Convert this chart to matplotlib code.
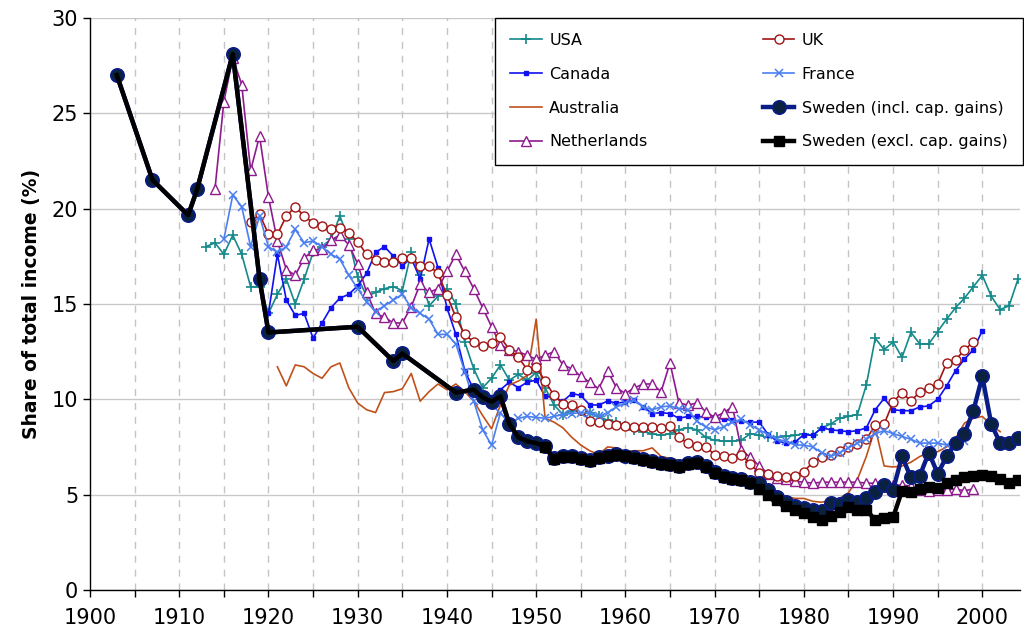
import matplotlib

matplotlib.use("Agg")
import matplotlib.pyplot as plt

# ---- data (top 1% income shares, %) ----
usa_years = list(range(1913, 2005))
usa_vals = [
    18.0, 18.2, 17.6, 18.6, 17.6, 15.9, 15.9, 14.5, 15.5, 16.3,
    15.0, 16.3, 17.7, 18.0, 18.4, 19.6, 18.4, 16.4, 15.4, 15.6,
    15.8, 15.9, 15.7, 17.7, 16.5, 14.9, 15.4, 15.8, 15.0, 13.0,
    11.6, 10.6, 11.1, 11.8, 11.0, 11.3, 11.0, 11.4, 10.6, 9.7,
    9.2, 9.4, 9.4, 9.3, 9.1, 8.9, 8.8, 8.6, 8.4, 8.3,
    8.2, 8.1, 8.2, 8.4, 8.5, 8.4, 8.0, 7.85, 7.8, 7.8,
    7.85, 8.2, 8.1, 8.0, 8.0, 8.05, 8.1, 8.2, 8.1, 8.5,
    8.7, 9.0, 9.1, 9.2, 10.75, 13.2, 12.6, 13.0, 12.2, 13.5,
    12.9, 12.9, 13.55, 14.2, 14.8, 15.3, 15.9, 16.5, 15.4, 14.7,
    14.9, 16.3,
]

uk_years = list(range(1918, 2000))
uk_vals = [
    19.3, 19.7, 18.65, 18.65, 19.6, 20.1, 19.6, 19.25, 19.1, 18.9,
    19.0, 18.7, 18.25, 17.6, 17.3, 17.2, 17.2, 17.4, 17.4, 17.0,
    17.0, 16.6, 15.45, 14.3, 13.4, 13.0, 12.8, 12.95, 13.25, 12.6,
    12.2, 11.55, 11.7, 10.95, 10.2, 9.75, 9.7, 9.45, 8.85, 8.8,
    8.7, 8.65, 8.6, 8.55, 8.55, 8.55, 8.5, 8.6, 8.0, 7.7,
    7.55, 7.5, 7.1, 7.05, 6.9, 7.1, 6.6, 6.15, 6.1, 6.0,
    5.9, 6.0, 6.2, 6.7, 6.95, 7.1, 7.3, 7.5, 7.65, 7.9,
    8.65, 8.7, 9.85, 10.35, 9.9, 10.4, 10.6, 10.8, 11.9, 12.05,
    12.6, 13.0,
]

canada_years = list(range(1920, 2001))
canada_vals = [
    14.5, 17.6, 15.2, 14.4, 14.5, 13.2, 14.0, 14.8, 15.3, 15.5,
    15.95, 16.6, 17.7, 18.0, 17.5, 17.0, 17.4, 16.3, 18.4, 16.9,
    14.8, 13.4, 11.5, 10.5, 10.3, 10.1, 10.5, 10.9, 10.6, 10.9,
    11.0, 10.15, 10.1, 9.9, 10.3, 10.2, 9.7, 9.7, 9.9, 9.8,
    9.85, 9.95, 9.6, 9.25, 9.3, 9.25, 9.0, 9.1, 9.1, 9.05,
    9.05, 8.95, 8.9, 8.85, 8.8, 8.8, 8.15, 7.8, 7.7, 7.75,
    8.15, 8.1, 8.5, 8.4, 8.35, 8.3, 8.35, 8.5, 9.45, 10.05,
    9.45, 9.4, 9.4, 9.6, 9.65, 10.0, 10.7, 11.5, 12.1, 12.6,
    13.6,
]

france_years = list(range(1915, 1999))
france_vals = [
    18.4, 20.7, 20.1, 18.0, 19.6, 18.0, 17.7, 18.0, 18.9, 18.2,
    18.3, 18.0, 17.6, 17.35, 16.5, 15.8, 15.1, 14.6, 14.9, 15.2,
    15.5, 14.8, 14.5, 14.2, 13.4, 13.4, 12.9, 11.45, 9.9, 8.4,
    7.6, 9.3, 8.7, 9.0, 9.1, 9.05, 9.0, 9.1, 9.2, 9.25,
    9.3, 9.3, 9.1, 9.3, 9.6, 9.8, 9.95, 9.6, 9.45, 9.6,
    9.65, 9.5, 9.45, 8.85, 8.55, 8.4, 8.55, 8.8, 8.95, 8.65,
    8.4, 8.15, 7.9, 7.8, 7.6, 7.6, 7.5, 7.2, 7.0, 7.2,
    7.45, 7.7, 7.9, 8.2, 8.35, 8.2, 8.05, 7.9, 7.7, 7.7,
    7.7, 7.6, 7.7, 7.8,
]

australia_years = list(range(1921, 2003))
australia_vals = [
    11.7, 10.7, 11.8, 11.7, 11.35, 11.1, 11.7, 11.9, 10.6, 9.8,
    9.45, 9.3, 10.35, 10.4, 10.55, 11.35, 9.9, 10.4, 10.8, 10.5,
    10.8, 10.4, 9.9, 9.15, 8.45, 9.7, 10.75, 10.95, 11.25, 14.2,
    9.0, 8.8, 8.5, 8.0, 7.6, 7.3, 7.1, 7.5, 7.45, 7.25,
    7.3, 7.3, 7.45, 7.0, 6.9, 6.8, 6.7, 6.7, 6.5, 6.2,
    6.0, 5.8, 5.6, 5.4, 5.3, 5.1, 5.0, 4.9, 4.8, 4.8,
    4.65, 4.6, 4.7, 4.8, 5.1, 5.8, 7.0, 8.5, 6.5, 6.45,
    6.5, 6.7, 7.0, 7.2, 7.25, 7.5, 7.95, 8.75, 9.0, 9.1,
    8.65, 8.3,
]

nl_years = list(range(1914, 2000))
nl_vals = [
    21.0, 25.6, 27.9, 26.5, 22.0, 23.8, 20.6, 18.3, 16.8, 16.5,
    17.4, 17.8, 17.9, 18.35, 18.6, 18.1, 17.1, 15.6, 14.5, 14.3,
    14.0, 14.0, 14.85, 16.05, 15.6, 15.8, 16.7, 17.6, 16.7, 15.8,
    14.8, 13.8, 12.85, 12.6, 12.5, 12.3, 12.1, 12.3, 12.5, 11.8,
    11.6, 11.2, 10.9, 10.55, 11.5, 10.6, 10.3, 10.6, 10.8, 10.8,
    10.4, 11.9, 9.8, 9.7, 9.8, 9.35, 9.05, 9.3, 9.6, 7.35,
    6.95, 6.5, 6.1, 5.85, 5.8, 5.7, 5.65, 5.6, 5.65, 5.65,
    5.65, 5.65, 5.65, 5.6, 5.6, 5.55, 5.5, 5.5, 5.45, 5.25,
    5.2, 5.25, 5.25, 5.3, 5.2, 5.3,
]

sweden_years = [1903, 1907, 1911, 1912, 1916, 1919, 1920, 1930, 1934, 1935,
                1941, 1943, 1944, 1945, 1946, 1947, 1948, 1949, 1950] + list(range(1951, 2005))
sweden_incl_vals = [
    27.0, 21.5, 19.65, 21.0, 28.1, 16.3, 13.5, 13.8, 12.0, 12.4,
    10.35, 10.5, 10.1, 9.87, 10.15, 8.7, 8.0, 7.8, 7.7,
    7.55, 6.9, 7.0, 7.0, 6.9, 6.8, 6.95, 7.05, 7.15, 7.05,
    6.95, 6.85, 6.75, 6.65, 6.6, 6.5, 6.65, 6.7, 6.5, 6.2,
    5.95, 5.85, 5.8, 5.65, 5.6, 5.25, 4.9, 4.6, 4.4, 4.3,
    4.2, 4.15, 4.55, 4.5, 4.7, 4.6, 4.8, 5.15, 5.5, 5.25,
    7.0, 5.9, 6.0, 7.2, 6.1, 7.0, 7.7, 8.2, 9.4, 11.2,
    8.7, 7.7, 7.7, 7.95,
]
sweden_excl_vals = [
    27.0, 21.5, 19.65, 21.0, 28.1, 16.3, 13.5, 13.8, 12.0, 12.4,
    10.35, 10.5, 10.1, 9.87, 10.15, 8.7, 8.0, 7.8, 7.7,
    7.5, 6.85, 6.95, 6.95, 6.85, 6.75, 6.9, 7.0, 7.1, 7.0,
    6.9, 6.8, 6.7, 6.6, 6.55, 6.47, 6.6, 6.64, 6.47, 6.15,
    5.9, 5.8, 5.75, 5.6, 5.3, 5.0, 4.72, 4.4, 4.2, 4.02,
    3.85, 3.67, 3.88, 4.1, 4.37, 4.2, 4.2, 3.67, 3.76, 3.81,
    5.2, 5.15, 5.3, 5.4, 5.35, 5.6, 5.75, 5.9, 6.0, 6.05,
    6.0, 5.8, 5.6, 5.75,
]

fig = plt.figure(figsize=(10.24, 6.39), dpi=100)
ax = fig.add_axes([0.0879, 0.0767, 0.908, 0.8955])

ax.plot(usa_years, usa_vals, color="#15898a", lw=1.2, marker="+", ms=7, mew=1.2, label="USA")
ax.plot(canada_years, canada_vals, color="#1010f0", lw=1.2, marker="s", ms=2.2, label="Canada")
ax.plot(australia_years, australia_vals, color="#c0501a", lw=1.2, label="Australia")
ax.plot(nl_years, nl_vals, color="#8e1a8e", lw=1.2, marker="^", ms=6.5, mfc="white", mew=1.0,
        label="Netherlands")
ax.plot(uk_years, uk_vals, color="#a01414", lw=1.2, marker="o", ms=6.5, mfc="white", mew=1.0, label="UK")
ax.plot(france_years, france_vals, color="#4a7ff0", lw=1.2, marker="x", ms=5.5, mew=1.1, label="France")

ax.plot(sweden_years, sweden_incl_vals, color="#0a1c86", lw=3.2, marker="o", ms=9.5,
        mfc="#0a2240", mec="#0a1c86", mew=1.3, label="Sweden (incl. cap. gains)")
first_sq = sweden_years.index(1951)
ax.plot(sweden_years, sweden_excl_vals, color="black", lw=3.2, marker="s", ms=7,
        markevery=list(range(first_sq, len(sweden_years))), label="Sweden (excl. cap. gains)")

ax.set_xlim(1900, 2004.2)
ax.set_ylim(0, 30)
ax.set_yticks(range(0, 31, 5))
xt = list(range(1900, 2005, 5))
ax.set_xticks(xt)
ax.set_xticklabels([str(y) if y % 10 == 0 else "" for y in xt])

for lab in ax.get_xticklabels() + ax.get_yticklabels():
    lab.set_fontsize(15)
ax.tick_params(axis="both", direction="out", length=5, width=1, color="black")
ax.tick_params(axis="x", pad=8)

ax.grid(axis="y", color="#c8c8c8", lw=1.0, ls="-")
for y in xt[1:]:
    ax.axvline(y, color="#c4c4c4", lw=1.0, ls=(0, (5, 5)), zorder=0)
ax.set_axisbelow(True)

for s in ["top", "right"]:
    ax.spines[s].set_visible(False)
ax.spines["left"].set_linewidth(1.0)
ax.spines["bottom"].set_linewidth(1.0)

ax.set_ylabel("Share of total income (%)", fontsize=13.5, fontweight="bold", labelpad=8)

leg = ax.legend(loc="upper right", bbox_to_anchor=(1.003, 1.0), borderaxespad=0.0, ncol=2,
                fontsize=11.5, frameon=True, fancybox=False, framealpha=1, edgecolor="black",
                labelspacing=1.18, handlelength=2.0, handletextpad=0.45, columnspacing=7.2,
                borderpad=0.95)
leg.get_frame().set_linewidth(1.0)

fig.savefig("out.png", dpi=100)
